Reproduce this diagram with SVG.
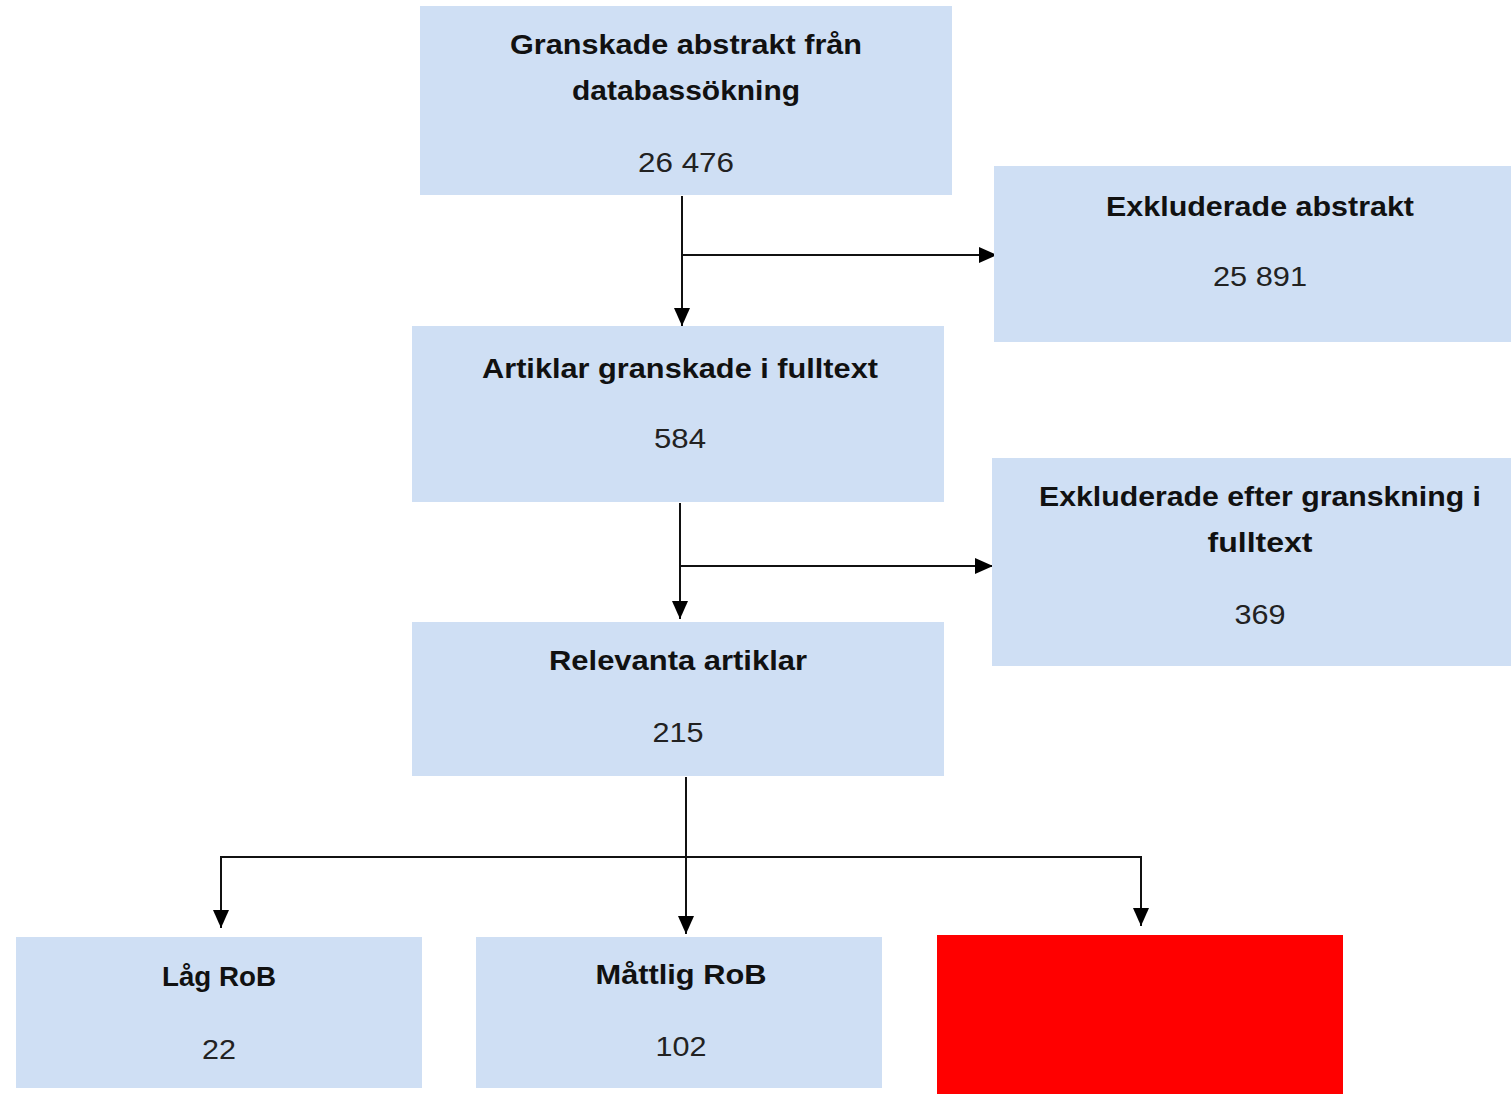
<svg xmlns="http://www.w3.org/2000/svg" width="1511" height="1094" viewBox="0 0 1511 1094">
<style>
.box{fill:#cfdff4}
.t{font-family:"Liberation Sans",Arial,sans-serif;font-size:28px;font-weight:bold;fill:#111;text-anchor:middle}
.n{font-family:"Liberation Sans",Arial,sans-serif;font-size:28px;fill:#222;text-anchor:middle}
.c{fill:none;stroke:#111;stroke-width:2}
</style>
<defs>
<marker id="ah" markerWidth="18" markerHeight="16" refX="18" refY="8" orient="auto" markerUnits="userSpaceOnUse">
<path d="M0,0 L18,8 L0,16 Z" fill="#000"/>
</marker>
</defs>
<rect width="1511" height="1094" fill="#fff"/>
<g id="connectors">
<path class="c" d="M682,196 V326" marker-end="url(#ah)"/>
<path class="c" d="M682,255 H997" marker-end="url(#ah)"/>
<path class="c" d="M680,503 V619" marker-end="url(#ah)"/>
<path class="c" d="M680,566 H993" marker-end="url(#ah)"/>
<path class="c" d="M686,777 V934" marker-end="url(#ah)"/>
<path class="c" d="M221,857 H1141"/>
<path class="c" d="M221,856 V928" marker-end="url(#ah)"/>
<path class="c" d="M1141,856 V926" marker-end="url(#ah)"/>
</g>
<g id="n1">
<rect class="box" x="420" y="6" width="532" height="189"/>
<text class="t" x="686" y="54" textLength="352" lengthAdjust="spacingAndGlyphs">Granskade abstrakt från</text>
<text class="t" x="686" y="100" textLength="228" lengthAdjust="spacingAndGlyphs">databassökning</text>
<text class="n" x="686" y="172" textLength="96" lengthAdjust="spacingAndGlyphs">26 476</text>
</g>
<g id="n2">
<rect class="box" x="994" y="166" width="517" height="176"/>
<text class="t" x="1260" y="216" textLength="308" lengthAdjust="spacingAndGlyphs">Exkluderade abstrakt</text>
<text class="n" x="1260" y="286" textLength="94" lengthAdjust="spacingAndGlyphs">25 891</text>
</g>
<g id="n3">
<rect class="box" x="412" y="326" width="532" height="176"/>
<text class="t" x="680" y="378" textLength="396" lengthAdjust="spacingAndGlyphs">Artiklar granskade i fulltext</text>
<text class="n" x="680" y="448" textLength="52" lengthAdjust="spacingAndGlyphs">584</text>
</g>
<g id="n4">
<rect class="box" x="992" y="458" width="519" height="208"/>
<text class="t" x="1260" y="506" textLength="442" lengthAdjust="spacingAndGlyphs">Exkluderade efter granskning i</text>
<text class="t" x="1260" y="552" textLength="105" lengthAdjust="spacingAndGlyphs">fulltext</text>
<text class="n" x="1260" y="624" textLength="51" lengthAdjust="spacingAndGlyphs">369</text>
</g>
<g id="n5">
<rect class="box" x="412" y="622" width="532" height="154"/>
<text class="t" x="678" y="670" textLength="258" lengthAdjust="spacingAndGlyphs">Relevanta artiklar</text>
<text class="n" x="678" y="742" textLength="51" lengthAdjust="spacingAndGlyphs">215</text>
</g>
<g id="n6">
<rect class="box" x="16" y="937" width="406" height="151"/>
<text class="t" x="219" y="986" textLength="114" lengthAdjust="spacingAndGlyphs">Låg RoB</text>
<text class="n" x="219" y="1059" textLength="34" lengthAdjust="spacingAndGlyphs">22</text>
</g>
<g id="n7">
<rect class="box" x="476" y="937" width="406" height="151"/>
<text class="t" x="681" y="984" textLength="171" lengthAdjust="spacingAndGlyphs">Måttlig RoB</text>
<text class="n" x="681" y="1056" textLength="51" lengthAdjust="spacingAndGlyphs">102</text>
</g>
<g id="n8">
<rect x="937" y="935" width="406" height="159" fill="#ff0000"/>
</g>
</svg>
